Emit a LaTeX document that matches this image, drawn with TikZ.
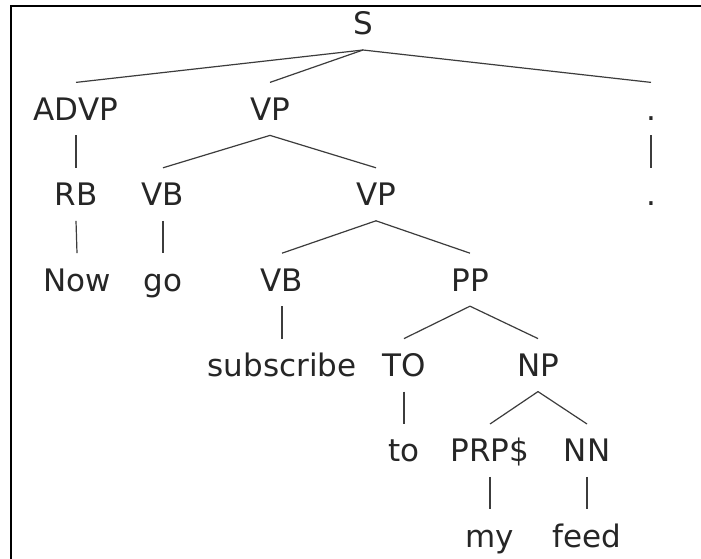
\documentclass[tikz,border=0pt]{standalone}
\usepackage{fontspec}
\setmainfont{DejaVu Sans}
\definecolor{labelink}{HTML}{262626}
\definecolor{branchink}{HTML}{3C3C3C}
\begin{document}
\begin{tikzpicture}[x=1pt,y=1pt,
  lbl/.style={anchor=base, inner sep=0pt, outer sep=0pt,
    text height=38pt, text depth=15pt, text=labelink,
    font=\fontsize{31}{37}\selectfont},
  branch/.style={draw=branchink, line width=1.2pt}]
\useasboundingbox (0,0) rectangle (701,559);
\fill[white] (0,0) rectangle (701,559);
% frame (top and left edges)
\draw[line width=2pt] (11,-5) -- (11,553) -- (706,553);

% level baselines
\def\la{524}\def\lb{438.6}\def\lc{353.2}\def\ld{267.8}
\def\le{182.4}\def\lf{97}\def\lg{11.6}

\node[lbl] (s)     at (363,\la) {S};
\node[lbl] (advp)  at (76,\lb)  {ADVP};
\node[lbl] (vpa)   at (270,\lb) {VP};
\node[lbl] (pa)    at (651,\lb) {.};
\node[lbl] (rb)    at (76,\lc)  {RB};
\node[lbl] (vba)   at (163,\lc) {VB};
\node[lbl] (vpb)   at (376,\lc) {VP};
\node[lbl] (pb)    at (651,\lc) {.};
\node[lbl] (now)   at (77,\ld)  {Now};
\node[lbl] (go)    at (163,\ld) {go};
\node[lbl] (vbb)   at (282,\ld) {VB};
\node[lbl] (pp)    at (470,\ld) {PP};
\node[lbl] (subs)  at (282,\le) {subscribe};
\node[lbl] (to)    at (404,\le) {TO};
\node[lbl] (np)    at (538,\le) {NP};
\node[lbl] (tow)   at (404,\lf) {to};
\node[lbl] (prp)   at (490,\lf) {PRP\$};
\node[lbl] (nn)    at (587,\lf) {NN};
\node[lbl] (my)    at (490,\lg) {my};
\node[lbl] (feed)  at (587,\lg) {feed};

\foreach \p/\c in {s/advp, s/vpa, s/pa, advp/rb, vpa/vba, vpa/vpb, pa/pb,
                   rb/now, vba/go, vpb/vbb, vpb/pp, vbb/subs, pp/to, pp/np,
                   to/tow, np/prp, np/nn, prp/my, nn/feed}
  \draw[branch] (\p.south) -- (\c.north);
\end{tikzpicture}
\end{document}
